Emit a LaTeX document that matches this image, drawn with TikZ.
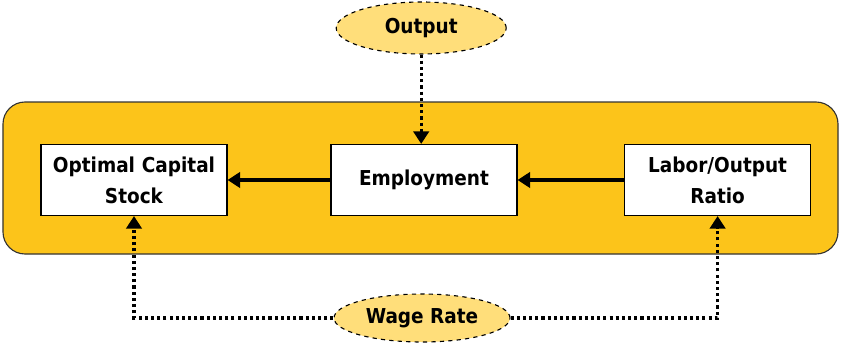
\documentclass[tikz,border=0pt]{standalone}
\usepackage{fontspec}
\setmainfont{DejaVu Sans Condensed}
\usetikzlibrary{shapes,arrows.meta,positioning,calc}
\definecolor{panelgold}{HTML}{FCC41A}
\definecolor{ovalyellow}{HTML}{FFDE7A}
\tikzset{
  box/.style={
    draw, rectangle, fill=white, thick,
    minimum width=4.65cm, minimum height=1.775cm,
    text width=4.3cm, align=center,
    font=\fontsize{14.6}{22}\selectfont\bfseries
  },
  oval/.style={
    draw, ellipse, dashed, thick, fill=ovalyellow, inner sep=0pt,
    font=\fontsize{14.6}{16}\selectfont\bfseries
  }
}
\begin{document}
\begin{tikzpicture}[
    solidarrow/.style={-{Triangle[width=11pt,length=9pt]}, line width=2.3pt},
    dotarrow/.style={-{Triangle[width=11pt,length=9pt]}, line width=2.2pt,
      dash pattern=on 2.2pt off 2.2pt}
  ]
  \useasboundingbox (0,0) rectangle (21.075,-8.575);

  % Yellow panel
  \draw [fill=panelgold, draw=black!80, rounded corners=0.55cm, thick]
    (0.075,-2.55) rectangle (20.95,-6.35);

  % Boxes
  \node (capital) [box] at (3.35,-4.5) {Optimal Capital\\Stock};
  \node (employ) [box] at (10.6,-4.5) {Employment};
  \node (ratio) [box] at (17.94,-4.5) {Labor/Output\\Ratio};

  % Ovals
  \node (output) [oval, minimum width=4.25cm, minimum height=1.3cm] at (10.53,-0.7) {Output};
  \node (wage) [oval, minimum width=4.4cm, minimum height=1.2cm] at (10.55,-7.95) {Wage Rate};

  % Arrows
  \draw [solidarrow] (employ) -- (capital);
  \draw [solidarrow] (ratio) -- (employ);
  \draw [dotarrow] (output.south) -- (employ.north -| output.south);
  \draw [dotarrow] (wage.west) -| (capital.south);
  \draw [dotarrow] (wage.east) -| (ratio.south);
\end{tikzpicture}
\end{document}
